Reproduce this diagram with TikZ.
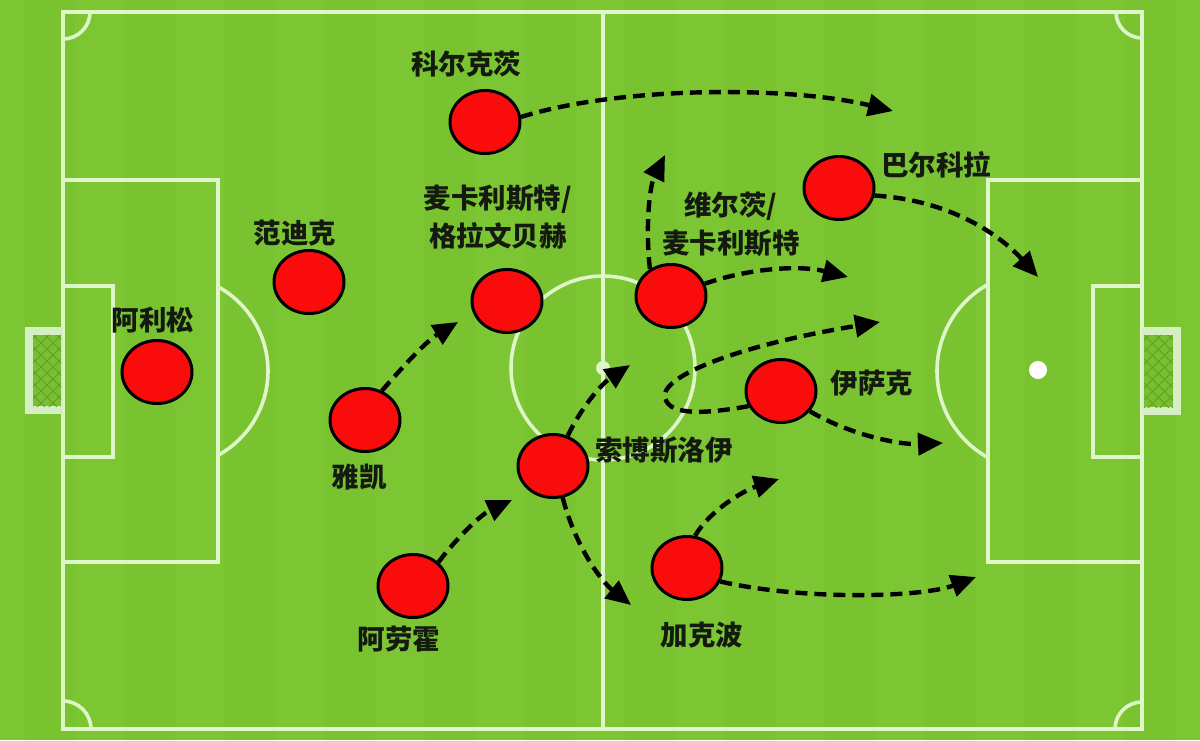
\documentclass[tikz,border=0pt]{standalone}
\usepackage{fontspec}
\newfontfamily\cjk{Noto Sans CJK SC}
\usetikzlibrary{arrows.meta,shapes.geometric}
\definecolor{grass}{RGB}{124,198,52}
\definecolor{grassb}{RGB}{119,193,47}
\definecolor{pline}{RGB}{222,246,200}
\definecolor{netc}{RGB}{96,160,40}
\definecolor{goalf}{RGB}{214,238,196}
\definecolor{redp}{RGB}{250,12,12}
\definecolor{ink}{RGB}{20,26,16}
\begin{document}
\begin{tikzpicture}[x=1pt,y=-1pt,
  pitchline/.style={draw=pline,line width=3.6pt},
  player/.style={ellipse,draw=black,line width=3pt,fill=redp,minimum width=70pt,minimum height=63pt,inner sep=0pt},
  lbl/.style={font=\cjk\bfseries\fontsize{27.5}{38}\selectfont,text=ink,inner sep=0pt,align=center},
  run/.style={draw=black,line width=4.4pt,dash pattern=on 12pt off 7pt,-{Triangle[length=25pt,width=22pt]}}]
\useasboundingbox (0,0) rectangle (1200,740);
% grass
\fill[grass] (0,0) rectangle (1200,740);
\foreach \i in {0,2,4,6,8,10,12,14,16,18,20,22}{
  \fill[grassb,opacity=0.5] (\i*50+25,0) rectangle (\i*50+75,740);
}
% pitch lines
\draw[pitchline] (63,12) rectangle (1142,729);
\draw[pitchline] (603,12) -- (603,729);
\draw[pitchline] (603,368) circle[radius=92];
\fill[pline] (603,368) circle[radius=7];
% penalty areas
\draw[pitchline] (63,180) rectangle (218,562);
\draw[pitchline] (988,180) rectangle (1142,562);
\draw[pitchline] (63,286) rectangle (113,457);
\draw[pitchline] (1093,286) rectangle (1142,457);
% penalty arcs
\begin{scope}
\clip (218,0) rectangle (400,740);
\draw[pitchline] (172,371) circle[radius=96];
\end{scope}
\begin{scope}
\clip (800,0) rectangle (988,740);
\draw[pitchline] (1036,371) circle[radius=99];
\end{scope}
\fill[white] (1038,370) circle[radius=9];
% corner arcs
\begin{scope}
\clip (63,12) rectangle (1142,729);
\draw[pitchline] (63,12) circle[radius=27];
\draw[pitchline] (1142,12) circle[radius=26];
\draw[pitchline] (63,729) circle[radius=28];
\draw[pitchline] (1142,729) circle[radius=27];
\end{scope}
% goals
\fill[goalf] (25,327) rectangle (63,414);
\fill[grass!85!netc] (33,335) rectangle (61,406);
\begin{scope}
\clip (33,335) rectangle (61,406);
\foreach \k in {-2,...,8}{
  \draw[netc,line width=0.8pt] (33,335+\k*12) -- ++(40,40);
  \draw[netc,line width=0.8pt] (61,335+\k*12) -- ++(-40,40);
}
\end{scope}
\fill[goalf] (1142,327) rectangle (1181,415);
\fill[grass!85!netc] (1144,335) rectangle (1173,407);
\begin{scope}
\clip (1144,335) rectangle (1173,407);
\foreach \k in {-2,...,8}{
  \draw[netc,line width=0.8pt] (1144,335+\k*12) -- ++(40,40);
  \draw[netc,line width=0.8pt] (1173,335+\k*12) -- ++(-40,40);
}
\end{scope}
% players
\node[player] (ali) at (157,372) {};
\node[player] (vd) at (309,282) {};
\node[player] (jac) at (365,420) {};
\node[player] (ara) at (413,586) {};
\node[player] (kon) at (485,122) {};
\node[player] (mac) at (507,301) {};
\node[player] (sob) at (553,466) {};
\node[player] (wir) at (671,296) {};
\node[player] (bar) at (839,188) {};
\node[player] (isa) at (781,391) {};
\node[player] (gak) at (687,568) {};
% labels
\node[lbl] (lali) at (153,320) {阿利松};
\node[lbl] (lvd) at (295,233) {范迪克};
\node[lbl] (ljac) at (359,477) {雅凯};
\node[lbl] (lara) at (399,639) {阿劳霍};
\node[lbl] (lkon) at (466,64) {科尔克茨};
\node[lbl] (lmac) at (498,217) {麦卡利斯特/\\格拉文贝赫};
\node[lbl] (lsob) at (664,450) {索博斯洛伊};
\node[lbl] (lwir) at (731,224) {维尔茨/\\麦卡利斯特};
\node[lbl] (lbar) at (936,165) {巴尔科拉};
\node[lbl] (lisa) at (872,383) {伊萨克};
\node[lbl] (lgak) at (702,635) {加克波};
% arrow targets
\coordinate (t1) at (893,111);
\coordinate (t2) at (665,155);
\coordinate (t3) at (848,277);
\coordinate (t4) at (1038,277);
\coordinate (t5) at (880,322);
\coordinate (t6) at (943,443);
\coordinate (t7) at (630,365);
\coordinate (t8) at (631,605);
\coordinate (t9) at (512,500);
\coordinate (t10) at (779,479);
\coordinate (t11) at (976,577);
\coordinate (t12) at (458,322);
% runs
\draw[run] (kon.8) .. controls (620,86) and (790,86) .. (t1);
\draw[run] (wir.128) .. controls (645,225) and (650,185) .. (t2);
\draw[run] (wir.20) .. controls (750,268) and (800,265) .. (t3);
\draw[run] (bar.-12) .. controls (950,200) and (1000,235) .. (t4);
\draw[run] (isa.205) .. controls (700,415) and (665,415) .. (665,395) .. controls (665,375) and (740,345) .. (t5);
\draw[run] (isa.-35) .. controls (850,435) and (900,445) .. (t6);
\draw[run] (sob.64) .. controls (580,410) and (600,385) .. (t7);
\draw[run] (sob.-73) .. controls (575,545) and (600,580) .. (t8);
\draw[run] (ara.43) .. controls (455,540) and (480,515) .. (t9);
\draw[run] (gak.76) .. controls (710,510) and (745,490) .. (t10);
\draw[run] (gak.-22) .. controls (800,600) and (920,598) .. (t11);
\draw[run] (jac.60) .. controls (400,370) and (425,342) .. (t12);
\end{tikzpicture}
\end{document}
